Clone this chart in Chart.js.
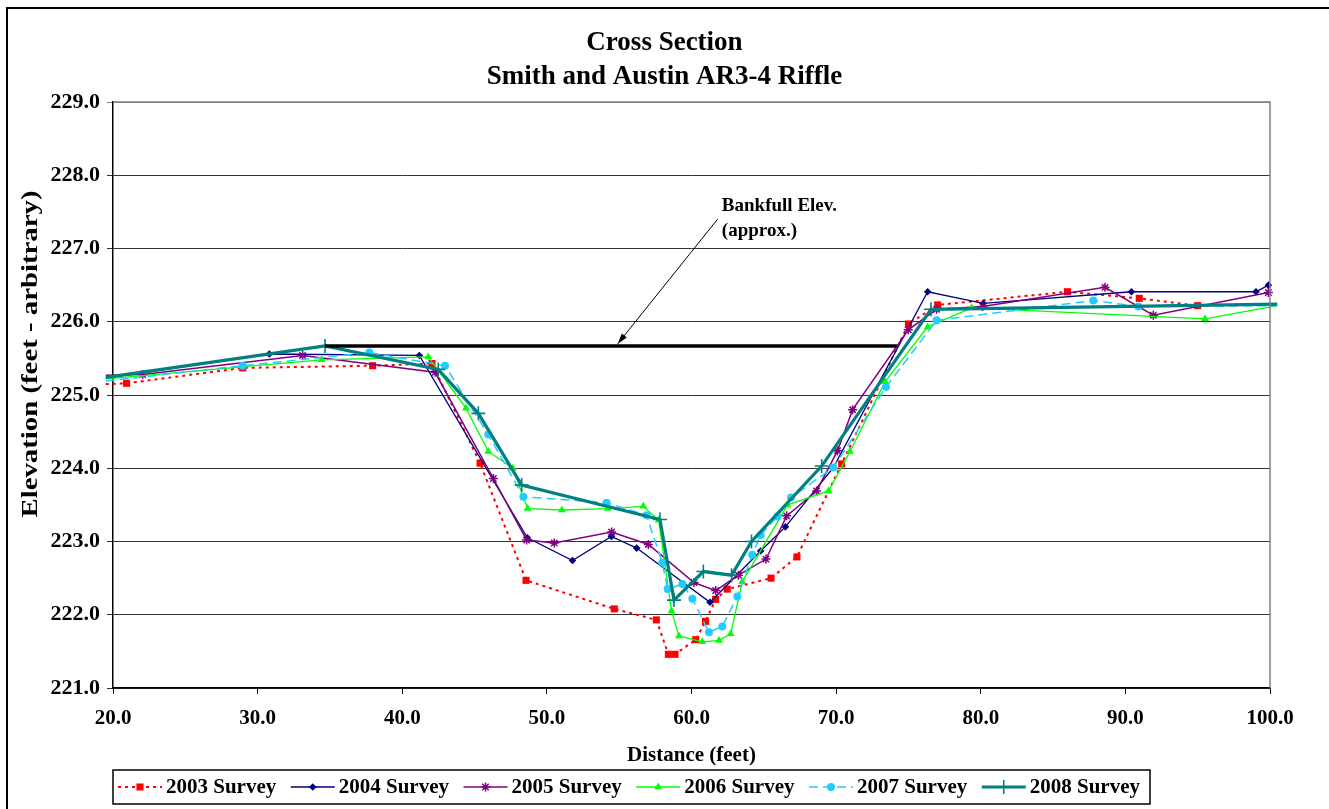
<!DOCTYPE html>
<html>
<head>
<meta charset="utf-8">
<title>Cross Section</title>
<script src="https://cdn.jsdelivr.net/npm/chart.js@4.4.1/dist/chart.umd.min.js"></script>
<style>
  html, body { margin: 0; padding: 0; background: #fff; }
</style>
</head>
<body>
<canvas id="xsChart" width="1329" height="809"></canvas>
<script>
// survey data (distance in feet, elevation in feet)
const dist2003 = [19.5, 20.94, 28.97, 37.95, 42.06, 45.38, 48.56, 54.66, 57.57, 58.40, 58.86, 60.29, 60.97, 61.67, 62.47, 65.50, 67.29, 70.38, 75.00, 77.02, 86.00, 90.96, 95.00];
const elev2003 = [225.15, 225.16, 225.37, 225.40, 225.43, 224.07, 222.47, 222.08, 221.93, 221.46, 221.46, 221.66, 221.91, 222.21, 222.35, 222.50, 222.79, 224.06, 225.97, 226.23, 226.41, 226.32, 226.22];

const dist2004 = [19.5, 30.81, 41.18, 48.65, 51.77, 54.46, 56.21, 61.28, 64.78, 66.49, 69.81, 76.33, 80.17, 90.42, 99.03, 99.89];
const elev2004 = [225.23, 225.56, 225.54, 223.05, 222.74, 223.07, 222.91, 222.17, 222.87, 223.20, 224.01, 226.41, 226.25, 226.41, 226.41, 226.50];

const dist2005 = [19.5, 22.05, 33.11, 42.27, 46.30, 48.60, 50.51, 54.48, 57.02, 60.17, 61.67, 63.24, 65.15, 66.58, 68.65, 70.10, 71.14, 74.99, 76.95, 80.13, 88.59, 91.93, 99.89];
const elev2005 = [225.27, 225.28, 225.54, 225.31, 223.86, 223.02, 222.98, 223.13, 222.96, 222.44, 222.33, 222.54, 222.76, 223.35, 223.69, 224.24, 224.80, 225.89, 226.17, 226.21, 226.47, 226.09, 226.40];

const dist2006 = [19.5, 34.42, 41.80, 44.41, 45.95, 47.64, 48.67, 51.04, 54.23, 56.67, 57.73, 58.62, 59.13, 60.75, 61.90, 62.71, 63.51, 66.65, 69.48, 70.96, 73.38, 76.33, 79.37, 95.51, 100.5];
const elev2006 = [225.22, 225.48, 225.52, 224.82, 224.23, 224.00, 223.45, 223.43, 223.45, 223.48, 223.29, 222.05, 221.71, 221.63, 221.65, 221.74, 222.45, 223.50, 223.69, 224.23, 225.18, 225.93, 226.19, 226.04, 226.22];

const dist2007 = [19.5, 28.97, 37.72, 42.96, 45.95, 48.37, 54.13, 56.89, 57.98, 58.35, 59.37, 60.06, 61.21, 62.13, 63.17, 64.20, 64.78, 65.94, 66.88, 69.81, 73.45, 76.95, 87.78, 90.89, 100.5];
const elev2007 = [225.19, 225.40, 225.58, 225.40, 224.46, 223.61, 223.53, 223.36, 222.71, 222.35, 222.42, 222.22, 221.76, 221.84, 222.25, 222.82, 223.09, 223.34, 223.60, 224.01, 225.11, 226.02, 226.29, 226.21, 226.22];

const dist2008 = [19.5, 34.66, 42.49, 45.26, 48.26, 57.82, 58.79, 60.82, 62.77, 64.15, 69.00, 76.56, 100.5];
const elev2008 = [225.24, 225.67, 225.35, 224.75, 223.77, 223.30, 222.20, 222.59, 222.54, 223.00, 224.03, 226.17, 226.24];

const bankfullDist = [34.66, 74.20];
const bankfullElev = [225.67, 225.67];

const xTicks = [20, 30, 40, 50, 60, 70, 80, 90, 100];
const yTicks = [221, 222, 223, 224, 225, 226, 227, 228, 229];

const surveyNames = ['2003 Survey', '2004 Survey', '2005 Survey', '2006 Survey', '2007 Survey', '2008 Survey'];
const yTitle = 'Elevation (feet - arbitrary)';

// annotation anchor (data units)
const noteText = ['Bankfull Elev.', '(approx.)'];
const noteAt = { x: 62.1, y: 227.58 };
const arrowFrom = { x: 61.8, y: 227.40 };
const arrowTo = { x: 54.9, y: 225.70 };

const serif = '"Liberation Serif", "Times New Roman", serif';

function pts(xs, ys) {
  return xs.map((x, i) => ({ x: x, y: ys[i] }));
}
// no marker for the stubs just past the axis ends
function markerSize(r) {
  return c => (c.raw && (c.raw.x < 20 || c.raw.x > 100)) ? 0 : r;
}

function survey(i, xs, ys, color, style) {
  return Object.assign({
    label: surveyNames[i],
    data: pts(xs, ys),
    showLine: true,
    fill: false,
    borderColor: color,
    backgroundColor: color,
    pointBackgroundColor: color,
    pointBorderColor: color,
    tension: 0,
    clip: false,
    order: 6 - i,
    inLegend: true
  }, style);
}

const datasets = [
  survey(0, dist2003, elev2003, '#FF0000', { borderWidth: 2, borderDash: [3, 4], pointStyle: 'rect', pointRadius: markerSize(5), pointBorderWidth: 0 }),
  survey(1, dist2004, elev2004, '#000080', { borderWidth: 1.3, pointStyle: 'rectRot', pointRadius: markerSize(3.8), pointBorderWidth: 0 }),
  survey(2, dist2005, elev2005, '#800080', { borderWidth: 1.5, pointStyle: 'star', pointRadius: markerSize(4.5), pointBorderWidth: 1.5 }),
  survey(3, dist2006, elev2006, '#00FF00', { borderWidth: 1.3, pointStyle: 'triangle', pointRadius: markerSize(4.5), pointBorderWidth: 0 }),
  survey(4, dist2007, elev2007, '#22CCFF', { borderWidth: 1.5, borderDash: [9, 5], pointStyle: 'circle', pointRadius: markerSize(4), pointBorderWidth: 0 }),
  survey(5, dist2008, elev2008, '#008080', { borderWidth: 3.2, pointStyle: 'cross', pointRadius: markerSize(7), pointBorderWidth: 1.6 }),
  {
    label: 'Bankfull',
    data: pts(bankfullDist, bankfullElev),
    showLine: true,
    borderColor: '#000',
    borderWidth: 3.5,
    pointRadius: 0,
    order: 0
  }
];

// white page, outer frame, grey top/right plot edge, stretched y title
const framePlugin = {
  id: 'frame',
  afterLayout(chart) {
    // centre the title on the whole page, not on the padded box
    if (chart.titleBlock) {
      chart.titleBlock.left = 0;
      chart.titleBlock.right = chart.width;
      chart.titleBlock.width = chart.width;
    }
  },
  beforeDraw(chart) {
    const ctx = chart.ctx;
    ctx.save();
    ctx.fillStyle = '#fff';
    ctx.fillRect(0, 0, chart.width, chart.height);
    ctx.strokeStyle = '#000';
    ctx.lineWidth = 2;
    ctx.strokeRect(7, 8, chart.width + 20, chart.height + 20);
    ctx.restore();
  },
  afterDraw(chart) {
    const a = chart.chartArea, ctx = chart.ctx;
    ctx.save();
    ctx.strokeStyle = '#808080';
    ctx.lineWidth = 1.5;
    ctx.beginPath();
    ctx.moveTo(a.left, a.top);
    ctx.lineTo(a.right, a.top);
    ctx.lineTo(a.right, a.bottom);
    ctx.stroke();

    ctx.fillStyle = '#000';
    ctx.font = 'bold 24px ' + serif;
    ctx.textAlign = 'center';
    ctx.textBaseline = 'middle';
    ctx.translate(31, (a.top + a.bottom) / 2 - 41);
    ctx.rotate(-Math.PI / 2);
    ctx.scale(1.2, 1);
    ctx.fillText(yTitle, 0, 0);
    ctx.restore();
  }
};

// "Bankfull Elev." note with arrow
const notePlugin = {
  id: 'note',
  afterDatasetsDraw(chart) {
    const x = chart.scales.x, y = chart.scales.y, ctx = chart.ctx;
    const x1 = x.getPixelForValue(arrowFrom.x), y1 = y.getPixelForValue(arrowFrom.y);
    const x2 = x.getPixelForValue(arrowTo.x), y2 = y.getPixelForValue(arrowTo.y);
    ctx.save();
    ctx.strokeStyle = '#000';
    ctx.fillStyle = '#000';
    ctx.lineWidth = 1;
    ctx.beginPath();
    ctx.moveTo(x1, y1);
    ctx.lineTo(x2, y2);
    ctx.stroke();
    const ang = Math.atan2(y2 - y1, x2 - x1);
    ctx.beginPath();
    ctx.moveTo(x2, y2);
    ctx.lineTo(x2 - 11 * Math.cos(ang - 0.3), y2 - 11 * Math.sin(ang - 0.3));
    ctx.lineTo(x2 - 11 * Math.cos(ang + 0.3), y2 - 11 * Math.sin(ang + 0.3));
    ctx.closePath();
    ctx.fill();
    ctx.font = 'bold 19px ' + serif;
    ctx.textBaseline = 'middle';
    ctx.textAlign = 'left';
    const tx = x.getPixelForValue(noteAt.x), ty = y.getPixelForValue(noteAt.y);
    noteText.forEach((t, i) => ctx.fillText(t, tx, ty + i * 25));
    ctx.restore();
  }
};

// boxed legend with line + marker samples, left-aligned to the plot
const legendPlugin = {
  id: 'boxLegend',
  afterDraw(chart) {
    const ctx = chart.ctx;
    const sampleW = 44, gap = 4, itemGap = 14.5, padX = 5, boxH = 34;
    const top = chart.height - 39, cy = top + boxH / 2;
    const left = chart.chartArea.left;
    let cx = left + padX;
    ctx.save();
    ctx.font = 'bold 21px ' + serif;
    ctx.textBaseline = 'middle';
    chart.data.datasets.forEach(ds => {
      if (!ds.inLegend) return;
      ctx.strokeStyle = ds.borderColor;
      ctx.fillStyle = ds.borderColor;
      ctx.lineWidth = ds.borderWidth;
      ctx.setLineDash(ds.borderDash || []);
      ctx.beginPath();
      ctx.moveTo(cx, cy);
      ctx.lineTo(cx + sampleW, cy);
      ctx.stroke();
      ctx.setLineDash([]);
      ctx.lineWidth = ds.pointBorderWidth || 1;
      Chart.helpers.drawPoint(ctx, {
        pointStyle: ds.pointStyle,
        radius: ds.pointRadius({ raw: { x: 50 } }),
        rotation: 0,
        borderWidth: ds.pointBorderWidth
      }, cx + sampleW / 2, cy);
      ctx.fillStyle = '#000';
      ctx.fillText(ds.label, cx + sampleW + gap, cy + 1);
      cx += sampleW + gap + ctx.measureText(ds.label).width + itemGap;
    });
    ctx.strokeStyle = '#000';
    ctx.lineWidth = 1.5;
    ctx.strokeRect(left, top, cx - itemGap + 10 - left, boxH);
    ctx.restore();
  }
};

new Chart(document.getElementById('xsChart'), {
  type: 'scatter',
  data: { datasets: datasets },
  plugins: [framePlugin, notePlugin, legendPlugin],
  options: {
    responsive: false,
    animation: false,
    events: [],
    layout: { padding: { top: 26, left: 10, right: 59, bottom: 39 } },
    plugins: {
      legend: { display: false },
      tooltip: { enabled: false },
      title: {
        display: true,
        text: ['Cross Section', 'Smith and Austin AR3-4 Riffle'],
        color: '#000',
        font: { family: serif, size: 27, weight: 'bold', lineHeight: 1.26 },
        padding: { top: 0, bottom: 8 }
      }
    },
    scales: {
      x: {
        type: 'linear',
        min: 20,
        max: 100,
        afterBuildTicks: s => { s.ticks = xTicks.map(v => ({ value: v })); },
        afterFit: s => { s.height = 82; },
        ticks: {
          color: '#000',
          padding: 12,
          maxRotation: 0,
          font: { family: serif, size: 21, weight: 'bold' },
          callback: v => Number(v).toFixed(1)
        },
        grid: { drawOnChartArea: false, drawTicks: true, tickLength: 6, color: '#000' },
        border: { color: '#000', width: 1.5 },
        title: {
          display: true,
          text: 'Distance (feet)',
          color: '#000',
          font: { family: serif, size: 21, weight: 'bold' },
          padding: { top: 0, bottom: 2 }
        }
      },
      y: {
        type: 'linear',
        min: 221,
        max: 229,
        afterBuildTicks: s => { s.ticks = yTicks.map(v => ({ value: v })); },
        afterFit: s => { s.width = 103; },
        ticks: {
          color: '#000',
          padding: 7,
          font: { family: serif, size: 22, weight: 'bold' },
          callback: v => Number(v).toFixed(1)
        },
        grid: {
          color: c => (c.tick && c.tick.value === 229) ? '#808080' : '#333',
          lineWidth: 1,
          tickLength: 6
        },
        border: { color: '#000', width: 1.5 },
        title: { display: false }
      }
    }
  }
});
</script>
</body>
</html>
